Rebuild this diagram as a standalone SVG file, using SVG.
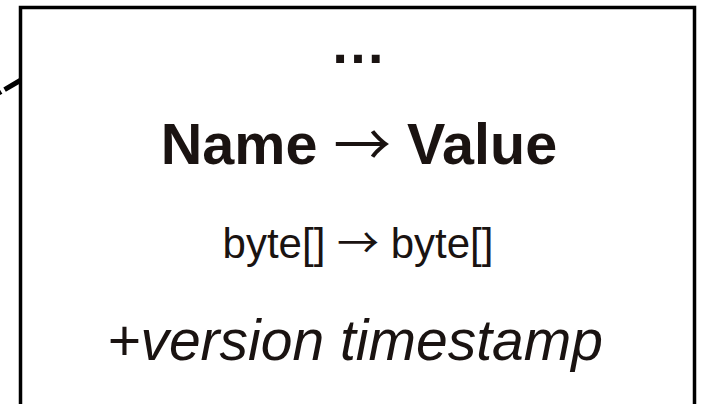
<svg xmlns="http://www.w3.org/2000/svg" width="701" height="404" viewBox="0 0 701 404">
<style>
.t{font-family:"Liberation Sans",Arial,sans-serif;fill:#1a1311;text-anchor:middle}
.b{font-weight:bold}
.i{font-style:italic}
.ar{font-family:"Noto Sans CJK SC",sans-serif;font-weight:normal}
.box{fill:#fff;stroke:#000;stroke-width:3.5}
.conn{fill:none;stroke:#000;stroke-width:5;stroke-dasharray:19 4}
</style>
<rect width="701" height="404" fill="#fff"/>
<g id="connectors">
<path class="conn" d="M21,80 L-40,115.5"/>
</g>
<g id="node-cell">
<rect class="box" x="20.5" y="7.5" width="674" height="430"/>
<text class="t b" x="358" y="63" font-size="56">…</text>
<text class="t b" x="359" y="164" font-size="57.5">Name <tspan class="ar" dy="2">→</tspan><tspan dy="-2"> Value</tspan></text>
<text class="t" x="358" y="258" font-size="42">byte[] <tspan class="ar">→</tspan> byte[]</text>
<text class="t i" x="355" y="360" font-size="57">+version timestamp</text>
</g>
</svg>
